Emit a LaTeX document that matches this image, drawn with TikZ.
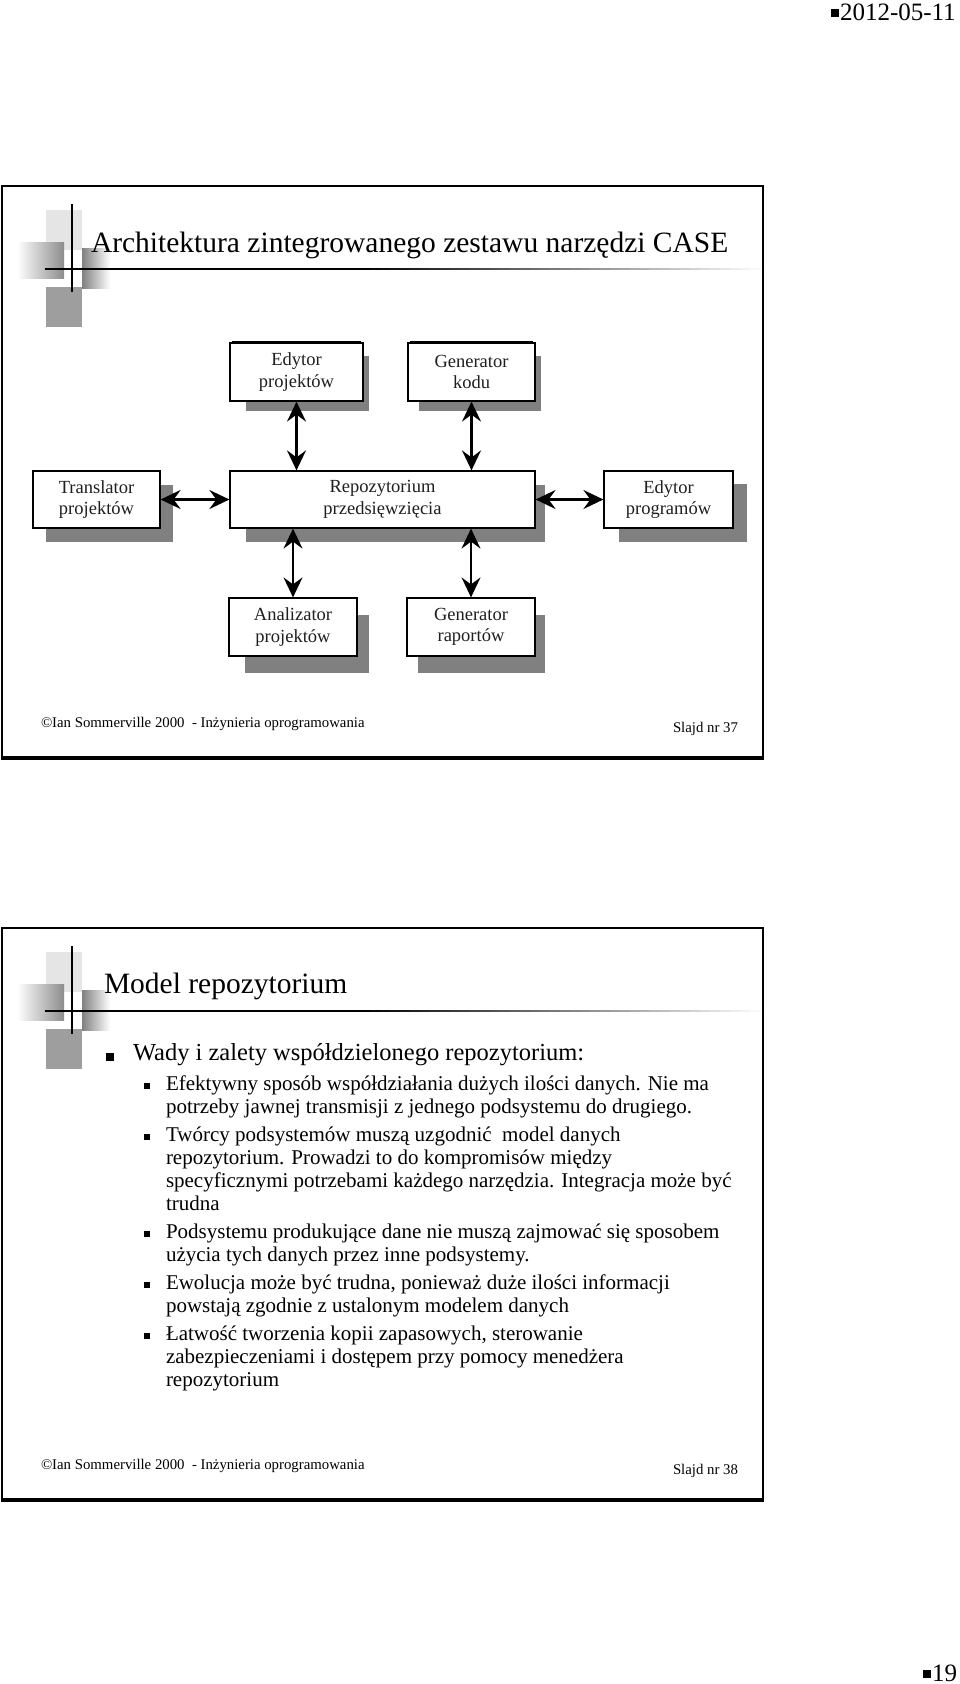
\documentclass[tikz,border=0pt]{standalone}
\usepackage{fontspec}
\setmainfont{Liberation Serif}
\usetikzlibrary{arrows.meta,calc,backgrounds}
\definecolor{shd}{gray}{0.5}
\definecolor{lightsq}{gray}{0.9}
\definecolor{darksq}{gray}{0.62}
\definecolor{boxtxt}{gray}{0.12}
\newcommand\slidedeco{%
  \fill[lightsq] (46,210) rectangle (82,250);
  \shade[left color=white,right color=black!45] (17,242) rectangle (64,278);
  \shade[left color=black!50,right color=white] (82,248) rectangle (110,288);
  \fill[darksq] (46,287) rectangle (82,327);
  \fill[black] (70.6,204) rectangle (73.4,292);
  \fill[black] (45,267.6) rectangle (361,270.4);
  \foreach \i in {0,...,39}{
    \pgfmathsetmacro\shadeval{100-2.5*\i}
    \fill[black!\shadeval] (360+10*\i,267.6) rectangle (371+10*\i,270.4);
  }
  \draw[line width=2.3pt] (2.2,186) rectangle (762.8,757);
  \draw[line width=2.5pt] (1,758.5) -- (764,758.5);
}
\begin{document}
\begin{tikzpicture}[x=1pt,y=-1pt,
  box/.style={draw=black,line width=1.2pt,fill=white,inner sep=0pt,align=center,
    text=boxtxt,font=\fontsize{18.5}{21.5}\selectfont},
  dbl/.style={{Stealth[length=20pt,width=19pt,inset=7pt]}-{Stealth[length=20pt,width=19pt,inset=7pt]},line width=2.1pt},
  txt/.style={anchor=base west,inner sep=0pt,outer sep=0pt},
  ttl/.style={txt,font=\fontsize{29.5}{34}\selectfont},
  foot/.style={txt,font=\fontsize{14.8}{17}\selectfont},
  lone/.style={txt,font=\fontsize{24.5}{28}\selectfont},
  ltwo/.style={txt,font=\fontsize{21}{23}\selectfont},
  bigtxt/.style={txt,font=\fontsize{25}{27}\selectfont},
]
\useasboundingbox (0,0) rectangle (960,1684);
\begin{scope}[on background layer]
  \fill[white] (0,0) rectangle (960,1684);
\end{scope}

% ---------- header / page number ----------
\fill[black] (831,9) rectangle (838.5,17);
\node[bigtxt] (date) at (840,20.5) {2012-05-11};
\fill[black] (923,1670) rectangle (931,1678);
\node[bigtxt] (pg) at (932,1681) {19};

% ---------- slide 1 ----------
\slidedeco
\node[ttl] (t1) at (91,252) {Architektura zintegrowanego zestawu narzędzi CASE};

\node[box,minimum width=133pt,minimum height=58pt] (ep) at (296.5,372) {Edytor\\projektów};
\node[box,minimum width=127pt,minimum height=58pt] (gk) at (471.5,372) {Generator\\kodu};
\node[box,minimum width=127pt,minimum height=57pt] (tp) at (96.5,499.5) {Translator\\projektów};
\node[box,minimum width=305pt,minimum height=57pt] (rp) at (382.5,499.5) {Repozytorium\\przedsięwzięcia};
\node[box,minimum width=129pt,minimum height=57pt] (epr) at (668.5,499.5) {Edytor\\programów};
\node[box,minimum width=128pt,minimum height=58pt] (ap) at (293,627) {Analizator\\projektów};
\node[box,minimum width=128pt,minimum height=58pt] (gr) at (471,627) {Generator\\raportów};

\begin{scope}[on background layer]
  \fill[shd] ($(ep.north west)+(17,14)$) rectangle ($(ep.south east)+(5,9)$);
  \fill[shd] ($(gk.north west)+(12,14)$) rectangle ($(gk.south east)+(5,9)$);
  \fill[shd] ($(tp.north west)+(14,15)$) rectangle ($(tp.south east)+(12,13)$);
  \fill[shd] ($(rp.north west)+(17,15)$) rectangle ($(rp.south east)+(9,13)$);
  \fill[shd] ($(epr.north west)+(16,14)$) rectangle ($(epr.south east)+(13,13)$);
  \fill[shd] ($(ap.north west)+(17,18)$) rectangle ($(ap.south east)+(11,16)$);
  \fill[shd] ($(gr.north west)+(12,18)$) rectangle ($(gr.south east)+(9,16)$);
\end{scope}
% thicker top edges of the upper boxes
\draw[line width=2.4pt] ([xshift=3pt]ep.north west) -- ([xshift=-3pt]ep.north east);
\draw[line width=2.4pt] ([xshift=3pt]gk.north west) -- ([xshift=-3pt]gk.north east);

\draw[dbl] (ep.south) -- (ep.south |- rp.north);
\draw[dbl] (gk.south) -- (gk.south |- rp.north);
\draw[dbl] (tp.east) -- (tp.east -| rp.west);
\draw[dbl] (epr.west -| rp.east) -- (epr.west);
\draw[dbl] (ap.north) -- (ap.north |- rp.south);
\draw[dbl] (gr.north) -- (gr.north |- rp.south);

\node[foot] (f1) at (41,727) {©Ian Sommerville 2000\ \ - Inżynieria oprogramowania};
\node[foot] (s1) at (673,732) {Slajd nr 37};

% ---------- slide 2 ----------
\begin{scope}[yshift=-742pt]
  \slidedeco
\end{scope}
\node[ttl] (t2) at (104,993) {Model repozytorium};

\fill[black] (106,1053) rectangle (113.5,1060.5);
\node[lone] (w0) at (133,1060) {Wady i zalety współdzielonego repozytorium:};

\foreach \b in {1090,1141,1238,1289,1340}{
  \fill[black] (144,\b-7.5) rectangle (150,\b-1.5);
}
\node[ltwo] (a1) at (166,1090) {Efektywny sposób współdziałania dużych ilości danych. Nie ma};
\node[ltwo] (a2) at (166,1113) {potrzeby jawnej transmisji z jednego podsystemu do drugiego.};
\node[ltwo] (b1) at (166,1141) {Twórcy podsystemów muszą uzgodnić\ \ model danych};
\node[ltwo] (b2) at (166,1164) {repozytorium. Prowadzi to do kompromisów między};
\node[ltwo] (b3) at (166,1187) {specyficznymi potrzebami każdego narzędzia. Integracja może być};
\node[ltwo] (b4) at (166,1210) {trudna};
\node[ltwo] (c1) at (166,1238) {Podsystemu produkujące dane nie muszą zajmować się sposobem};
\node[ltwo] (c2) at (166,1261) {użycia tych danych przez inne podsystemy.};
\node[ltwo] (d1) at (166,1289) {Ewolucja może być trudna, ponieważ duże ilości informacji};
\node[ltwo] (d2) at (166,1312) {powstają zgodnie z ustalonym modelem danych};
\node[ltwo] (e1) at (166,1340) {Łatwość tworzenia kopii zapasowych, sterowanie};
\node[ltwo] (e2) at (166,1363) {zabezpieczeniami i dostępem przy pomocy menedżera};
\node[ltwo] (e3) at (166,1386) {repozytorium};

\node[foot] (f2) at (41,1469) {©Ian Sommerville 2000\ \ - Inżynieria oprogramowania};
\node[foot] (s2) at (673,1474) {Slajd nr 38};
\end{tikzpicture}
\end{document}
